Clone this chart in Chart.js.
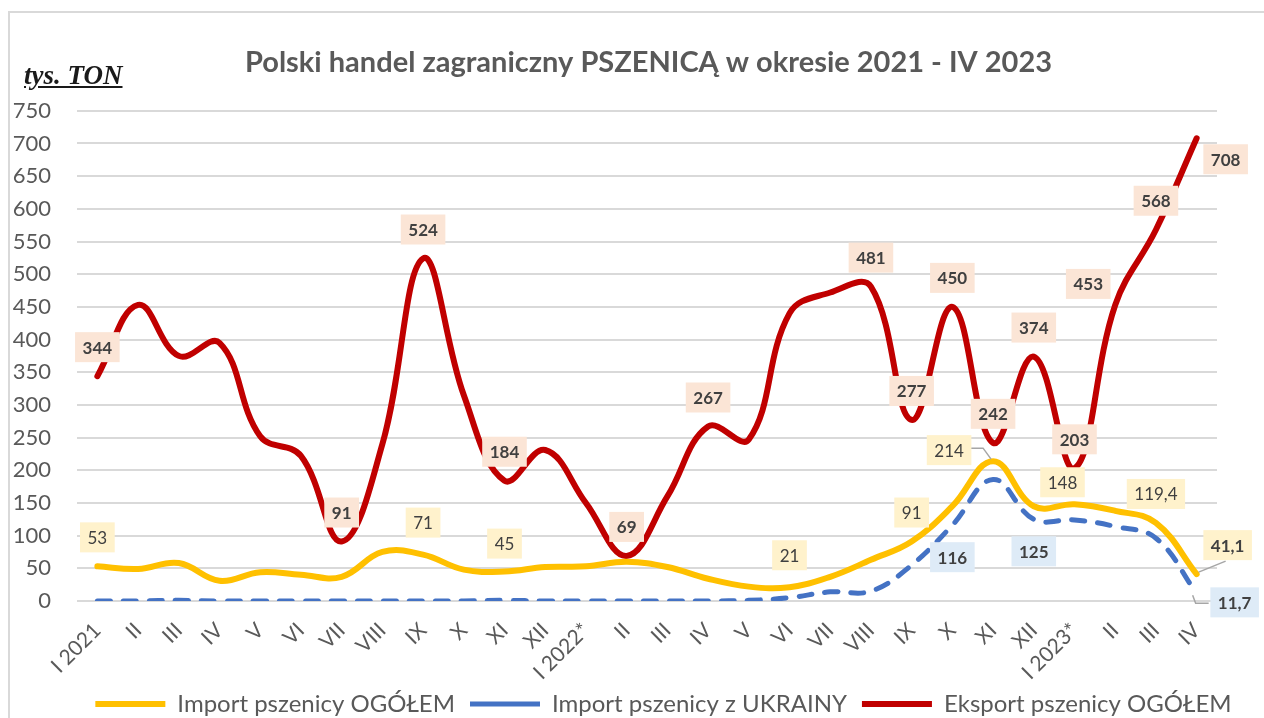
<!DOCTYPE html>
<html><head><meta charset="utf-8">
<script src="https://cdn.jsdelivr.net/npm/chart.js@4.4.0/dist/chart.umd.min.js"></script>
<style>
html,body{margin:0;padding:0;background:#fff;}
#wrap{position:relative;width:1264px;height:718px;overflow:hidden;background:#fff;}
#frame{position:absolute;left:8px;top:11px;width:1300px;height:800px;border:2px solid #d9d9d9;box-sizing:border-box;}
#unit{position:absolute;left:24px;top:60px;font:italic bold 27px "Liberation Serif";text-decoration:underline;color:#1a1a1a;line-height:31px;}
canvas{position:absolute;left:0;top:0;}
</style></head>
<body><div id="wrap"><div id="frame"></div><canvas id="c" width="1264" height="718" style="width:1264px;height:718px"></canvas><div id="unit">tys. TON</div></div>
<script>
const categories = ['I 2021','II','III','IV','V','VI','VII','VIII','IX','X','XI','XII','I 2022*','II','III','IV','V','VI','VII','VIII','IX','X','XI','XII','I 2023*','II','III','IV'];
const importTotal = [53,49,58,31,44,40,37,75,71,48,45,52,53,60,52,34,22,21,37,63,91,145,214,145,148,138,119.4,41.1];
const importUkraine = [0,0,1,0,0,0,0,0,0,0,1,0,0,0,0,0,1,5,14,15,55,116,186,125,124,114,96,11.7];
const exportTotal = [344,453,375,395,252,222,91,240,524,315,184,231,150,69,160,267,247,440,472,481,277,450,242,374,203,453,568,708];
const seriesNames = ['Import pszenicy OGÓŁEM','Import pszenicy z UKRAINY','Eksport pszenicy OGÓŁEM'];
const titleText = 'Polski handel zagraniczny PSZENICĄ w okresie 2021 - IV 2023';
const yMax = 750, yStep = 50;
const importLabelIdx = [0,8,10,17,20,22,24,26,27];
const ukraineLabelIdx = [21,23,27];
const exportLabelIdx = [0,6,8,10,13,15,19,20,21,22,23,24,25,26,27];

// label placement styles (offsets from point, px)
const labelStyle = [
  {bg:'#FFF2CC', bold:false, def:[0,-29], special:{8:[0,-32],10:[0,-28],17:[0,-32],22:[-44,-11],24:[-12,-22],27:[31,-29]},
   leaders:{22:[[-22,-13],[-10,-13],[-2,-2]],27:[[2,-2],[29,-13]]}, boldIdx:[27]},
  {bg:'#DEEBF7', bold:true, def:[0,32], special:{27:[38,9]}, leaders:{27:[[-4,2],[-1,10],[12,10]]}, boldIdx:[]},
  {bg:'#FBE5D6', bold:true, def:[0,-29], special:{25:[-27,-21],27:[29,21]}, leaders:{}, boldIdx:[]}
];
const labelIdx = [importLabelIdx, ukraineLabelIdx, exportLabelIdx];
const FONT = 'Lato';

function fmt(v){ return String(v).replace('.', ','); }

const labelPlugin = {
  id:'dataLabels',
  afterDatasetsDraw(chart){
    const ctx = chart.ctx;
    ctx.save();
    chart.data.datasets.forEach((ds, di) => {
      const meta = chart.getDatasetMeta(di);
      const st = labelStyle[di];
      labelIdx[di].forEach(i => {
        const pt = meta.data[i];
        const off = st.special[i] || st.def;
        const bold = st.bold || st.boldIdx.includes(i);
        ctx.font = (bold ? 'bold ' : '') + '17px ' + FONT;
        const txt = fmt(ds.data[i]);
        const w = ctx.measureText(txt).width + 15;
        const h = 30;
        const cx = pt.x + off[0], cy = pt.y + off[1];
        if (st.leaders[i]) {
          ctx.strokeStyle = '#a6a6a6'; ctx.lineWidth = 1.5; ctx.setLineDash([]);
          ctx.beginPath();
          st.leaders[i].forEach((p, k) => { const X = pt.x + p[0], Y = pt.y + p[1]; if (k===0) ctx.moveTo(X,Y); else ctx.lineTo(X,Y); });
          ctx.stroke();
        }
        ctx.fillStyle = st.bg;
        ctx.fillRect(cx - w/2, cy - h/2, w, h);
        ctx.fillStyle = '#404040';
        ctx.textAlign = 'center'; ctx.textBaseline = 'middle';
        ctx.fillText(txt, cx, cy + 1);
      });
    });
    ctx.restore();
  }
};

// shift the title and legend boxes horizontally to match the original centring,
// and let the rotated x labels use the space down to the legend
const boxShift = {
  id:'boxShift',
  afterLayout(chart){
    if (chart.titleBlock){ chart.titleBlock.left += 40; chart.titleBlock.right += 40; }
    if (chart.legend){ chart.legend.left += 55; chart.legend.right += 55; }
    if (chart.scales.x){ chart.scales.x.bottom = chart.height; }
  }
};

new Chart(document.getElementById('c'), {
  type:'line',
  data:{
    labels: categories,
    datasets:[
      {label:seriesNames[0], data:importTotal, borderColor:'#FFC000', backgroundColor:'#FFC000', borderWidth:6, pointRadius:0, tension:0.4, borderCapStyle:'round'},
      {label:seriesNames[1], data:importUkraine, borderColor:'#4472C4', backgroundColor:'#4472C4', borderWidth:5, borderDash:[13,13], borderCapStyle:'round', pointRadius:0, tension:0.4},
      {label:seriesNames[2], data:exportTotal, borderColor:'#C00000', backgroundColor:'#C00000', borderWidth:6, pointRadius:0, tension:0.4, borderCapStyle:'round'}
    ]
  },
  options:{
    responsive:false, animation:false, devicePixelRatio:1,
    layout:{padding:{left:0,right:47,top:0,bottom:-8}},
    plugins:{
      title:{display:true, text:titleText, color:'#595959', font:{family:FONT, size:29, weight:'bold'}, padding:{top:45,bottom:31}},
      legend:{position:'bottom', labels:{font:{family:FONT,size:24}, color:'#595959', usePointStyle:true, pointStyle:'line', pointStyleWidth:70, padding:15}},
      tooltip:{enabled:false}
    },
    scales:{
      x:{offset:true, grid:{display:false}, border:{display:false}, ticks:{color:'#595959', font:{family:FONT,size:21}, minRotation:45, maxRotation:45, autoSkip:false, padding:9},
         afterFit(s){ s.height = 76; }},
      y:{min:0, max:yMax, grid:{color:'#d9d9d9', lineWidth:2, drawTicks:false}, border:{display:false},
         ticks:{stepSize:yStep, color:'#595959', font:{family:FONT,size:22}, padding:26},
         afterFit(s){ s.width = 77; }}
    }
  },
  plugins:[labelPlugin, boxShift]
});
</script>
</body></html>
